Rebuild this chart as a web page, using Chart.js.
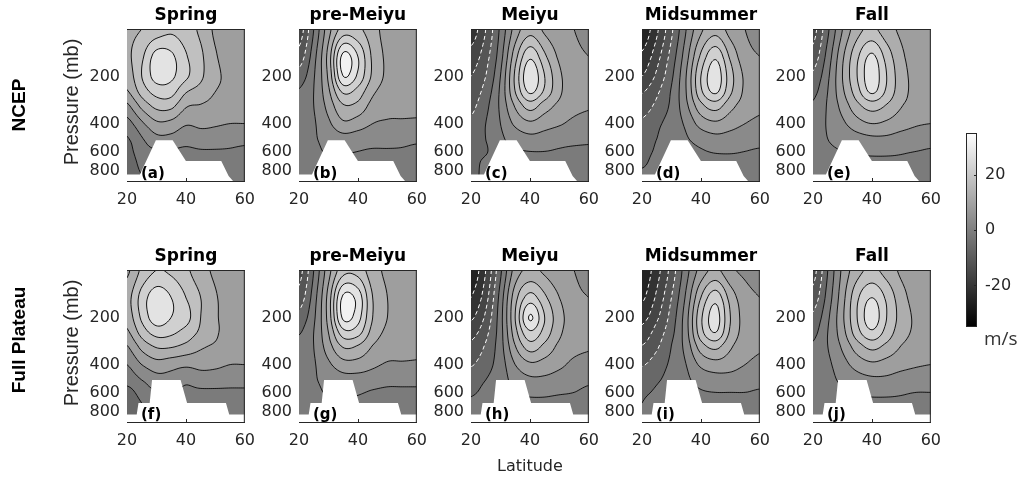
<!DOCTYPE html>
<html>
<head>
<meta charset="utf-8">
<script src="https://cdn.jsdelivr.net/npm/chart.js@4.4.1/dist/chart.umd.min.js"></script>
<style>
  html, body { margin: 0; padding: 0; background: #fff; }
  #fig { position: relative; width: 1021px; height: 477px; overflow: hidden; }
  #fig canvas { position: absolute; }
</style>
</head>
<body>
<div id="fig"></div>
<script>
// grid of the wind fields: columns are latitudes, rows are pressure levels (mb)
const lats = [20, 25, 30, 35, 40, 45, 50, 55, 60];
const pressureLevels = [100, 150, 200, 250, 300, 400, 500, 600, 700, 850, 925];
const latTicks = [20, 40, 60];
const pressureTicks = [200, 400, 600, 800];
const colorbarTicks = [-20, 0, 20];
const colorRange = [-35, 35];
const contourLevels = [-30, -25, -20, -15, -10, -5, 0, 5, 10, 15, 20, 25, 30, 35, 40];
const seasons = ['Spring', 'pre-Meiyu', 'Meiyu', 'Midsummer', 'Fall'];
const panelTags = [['(a)', '(b)', '(c)', '(d)', '(e)'], ['(f)', '(g)', '(h)', '(i)', '(j)']];
const rowNames = ['NCEP', 'Full Plateau'];

// surface (terrain) outline, masked below
const ncepSurfaceLat = [20, 24.4, 29.8, 35.5, 40, 52, 54.5, 56, 60];
const ncepSurfaceP = [840, 840, 510, 510, 690, 690, 860, 925, 925];
const plateauSurfaceLat = [20, 23.3, 23.9, 27.7, 28.5, 38.2, 40.4, 53.6, 54.7, 60];
const plateauSurfaceP = [828, 828, 700, 700, 500, 500, 700, 700, 828, 828];

// zonal wind, m/s
const ncepSpring = [
  [19, 20, 22, 24, 22, 19, 14, 12, 10],
  [19, 24, 32, 31, 25.5, 21, 15.5, 13, 11],
  [17, 25, 32, 31, 26, 21, 16, 14, 12],
  [14.5, 22, 27, 27, 20.5, 18, 15, 14, 13],
  [9.5, 17, 22, 22, 16, 15, 13.5, 12, 11],
  [3, 9, 14, 13.5, 10.5, 11, 10.5, 10, 10],
  [-0.5, 4.5, 8.5, 8.5, 7, 8, 8, 7, 6.5],
  [-2, 3, 4.5, 4.5, 4, 4.5, 4.5, 4.5, 4],
  [-3, 1.5, 3, 3, 3, 3, 3, 4, 3.5],
  [-3, 0, 1, 2, 2, 2, 2.5, 3.5, 3],
  [-3, -0.5, 1, 1, 1, 1, 2, 3.5, 3]
];
const ncepPreMeiyu = [
  [-13, 0, 13, 22, 21, 17, 13, 12, 11],
  [-8, 3, 17, 36.5, 30, 19, 14, 12.5, 11.5],
  [-3, 4.5, 16, 35, 29, 19, 14, 12.5, 11.5],
  [0.5, 5, 14, 26, 23, 16, 13, 12, 11],
  [2, 5, 12, 20, 19, 13.5, 11.5, 11, 10.5],
  [3, 4.5, 9, 14, 12.5, 10, 9.5, 9.5, 9.5],
  [3, 4.5, 6.5, 8, 7.5, 7, 7, 6.5, 6],
  [3, 4, 5.5, 5.5, 5, 4.5, 4.5, 4.5, 4],
  [2, 3.5, 4, 4, 4, 3.5, 3.5, 4, 4],
  [2, 3, 3, 3, 3, 3, 3, 4, 3.5],
  [2, 3, 3, 3, 3, 3, 3, 4, 3.5]
];
const ncepMeiyu = [
  [-18, -10, 1, 12, 18, 14, 11, 10, 9],
  [-13, -7, 3, 18, 29, 21, 14, 11, 10],
  [-10, -5, 5, 21, 34, 25, 16, 12, 10.5],
  [-8, -3, 6, 20, 31, 24, 16, 12, 11],
  [-6.5, -1.5, 6, 16, 23, 18, 14, 11.5, 10.5],
  [-4, 0, 5, 11, 14, 12, 10.5, 9, 8.5],
  [-2, 0, 4, 7, 8.5, 8, 7, 6.5, 6],
  [-2, -0.5, 3.5, 4.5, 5, 5, 4.5, 4, 4],
  [-1.5, 1, 3, 3.5, 3.5, 3.5, 3.5, 3.5, 3.5],
  [-1, 1, 2.5, 3, 3, 3, 3, 3, 3],
  [-1, 1, 2.5, 3, 3, 3, 3, 3, 3]
];
const ncepMidsummer = [
  [-24, -16, -6, 5, 14, 18, 13, 10, 8],
  [-19, -12, -3, 8, 21, 29, 19, 12, 10],
  [-15, -9, -1, 10, 25, 33, 22, 14, 11],
  [-10.5, -6, 0.5, 10, 24, 31, 21, 14, 11.5],
  [-8, -4, 1, 9, 19, 23, 17, 13, 11],
  [-4, -1, 2, 6, 12, 14, 12, 10, 9],
  [-2, 0, 2, 4.5, 7, 8.5, 8, 7, 6.5],
  [-1, 0.5, 2.5, 3.5, 4.5, 5.5, 5.5, 5, 4.5],
  [-0.5, 1, 2.5, 3, 3, 3, 3.5, 3.5, 3],
  [0.5, 1, 2, 2, 2, 2, 2.5, 3, 2.5],
  [0.5, 1, 2, 2, 2, 2, 2.5, 3, 2.5]
];
const ncepFall = [
  [-12, -1, 10, 18, 21, 17, 14, 12, 11],
  [-8, 2, 14, 24, 31, 23, 16, 13, 12],
  [-4, 4, 15, 25, 33, 25, 17, 13.5, 12],
  [-1.5, 5, 14, 23, 31, 24, 17, 13.5, 12],
  [0.5, 5.5, 12, 19, 23, 20, 15.5, 13, 11.5],
  [2, 5.5, 9, 13, 15, 14, 12, 10.5, 10],
  [2, 5, 6.5, 8, 9, 9, 8, 7.5, 7],
  [2, 4, 5, 5.5, 6, 6, 5.5, 5, 4.5],
  [2, 3, 3.5, 4, 4, 4, 4, 3.5, 3.5],
  [1.5, 2, 2.5, 3, 3, 3, 2.5, 3, 3],
  [1.5, 2, 2.5, 3, 3, 3, 2.5, 3, 3]
];
const plateauSpring = [
  [14, 21, 25, 24, 21, 17, 14, 12, 11],
  [18, 27, 33, 30, 25, 20, 15.5, 13, 12],
  [17, 26, 33, 30, 27, 20, 15.5, 14, 13],
  [14, 22, 27, 26, 23, 19, 15.5, 14, 13],
  [10, 17, 21, 21, 19, 16, 14.5, 13, 12],
  [5, 10, 13, 12, 11, 11.5, 11, 10, 10],
  [2, 5, 8, 8, 6, 7.5, 7.5, 7, 7],
  [-2, 2, 5, 5, 4, 4, 4, 4, 4],
  [-3, 0, 3, 3, 2, 2, 2, 2, 2],
  [-4, -1, 1, 1, 1, 1, 1, 1, 1],
  [-4, -1, 1, 1, 1, 1, 1, 1, 1]
];
const plateauPreMeiyu = [
  [-12, 0, 13, 23, 23, 17, 14, 12, 11],
  [-8, 2.5, 17, 36, 33, 20, 15, 13, 12],
  [-3.5, 4, 17, 36, 32, 20, 15, 13, 12],
  [-0.5, 5, 15, 28, 27, 18, 14, 13, 12],
  [1.5, 5, 13, 21, 20, 15, 12.5, 12, 11],
  [2.5, 4.5, 9, 13, 13, 11, 9.5, 9.5, 9.5],
  [3, 4.5, 6.5, 8, 8, 7.5, 6.5, 6.5, 6.5],
  [3, 4, 5.5, 6, 5.5, 4.5, 4, 4, 4],
  [2, 3.5, 4.5, 4.5, 4, 3.5, 3, 3, 3],
  [2, 3, 3, 3, 3, 3, 2.5, 2.5, 2.5],
  [2, 3, 3, 3, 3, 3, 2.5, 2.5, 2.5]
];
const plateauMeiyu = [
  [-24, -15, -1, 12, 16, 14, 11, 10, 9],
  [-20, -12, 2, 18, 27, 21, 15, 11, 10],
  [-16, -9, 3, 20, 35.5, 25, 17, 12, 10.5],
  [-12, -6.5, 3, 18, 29, 23, 16, 12, 11],
  [-9, -4.5, 3, 15, 23, 19, 14, 11.5, 10.5],
  [-5.5, -2, 2.5, 10, 14, 13, 11, 9, 8.5],
  [-2, 0, 2.5, 7, 9, 9, 8, 7, 6],
  [-0.5, 1, 3, 5, 6, 6, 5.5, 5, 4],
  [0.5, 1.5, 3, 4, 4, 4, 3.5, 3.5, 3.5],
  [0.5, 1.5, 2.5, 3, 3, 3, 2.5, 2.5, 2.5],
  [0.5, 1.5, 2.5, 3, 3, 3, 2.5, 2.5, 2.5]
];
const plateauMidsummer = [
  [-24, -17, -8, 3, 12, 16, 11, 9, 8],
  [-21, -14, -5, 6, 20, 28, 18, 12, 10],
  [-17, -11, -3, 8, 24, 32, 20, 13, 11],
  [-13, -8, -1.5, 8, 23, 30, 19, 13, 11],
  [-10, -6, 0, 7, 18, 22, 16, 12, 10.5],
  [-5.5, -2.5, 1, 5, 11, 13, 12, 10, 9],
  [-2, -0.5, 1.5, 4, 7, 8, 8, 7, 6.5],
  [-0.5, 0.5, 2, 3, 4.5, 5, 5, 5, 4.5],
  [0, 1, 2, 3, 3, 3, 3, 3, 3],
  [0, 1, 2, 2, 2, 2, 2, 2, 2],
  [0, 1, 2, 2, 2, 2, 2, 2, 2]
];
const plateauFall = [
  [-12, 0, 11, 18, 21, 18, 14, 12, 11],
  [-8, 2, 13, 24, 30, 24, 17, 13, 12],
  [-4, 4, 14, 25, 33, 25, 18, 14, 12],
  [-1.5, 5, 13, 23, 29, 23, 17, 14, 12],
  [0.5, 5, 11, 18, 22, 19, 15, 13, 11.5],
  [1.5, 4, 8, 12, 14, 13, 11.5, 10.5, 10],
  [2, 3.5, 6, 8, 9, 9, 8, 7.5, 7],
  [2, 3, 4.5, 5.5, 6, 6, 5.5, 5, 5],
  [2, 2.5, 3.5, 4, 4, 4, 4, 3.5, 3.5],
  [1.5, 2, 2.5, 3, 3, 3, 2.5, 2.5, 2.5],
  [1.5, 2, 2.5, 3, 3, 3, 2.5, 2.5, 2.5]
];

const fields = [
  [ncepSpring, ncepPreMeiyu, ncepMeiyu, ncepMidsummer, ncepFall],
  [plateauSpring, plateauPreMeiyu, plateauMeiyu, plateauMidsummer, plateauFall]
];

// layout
const FIG_H = 477;
const PLOT_W = 121, PLOT_H = 152;
const COL_LEFT = [127, 299, 471, 642, 813];
const ROW_TOP = [29, 270];
const TITLE_SPACE = 30;
const AXIS = '#262626';
const GRID = 'rgba(38,38,38,0.15)';
const TICK_FONT = { family: '"DejaVu Sans"', size: 16 };
const FILL_SHADE = 0.95;

const fig = document.getElementById('fig');
const lnLevels = pressureLevels.map(Math.log);

function catmullRom(p0, p1, p2, p3, t) {
  return 0.5 * (2 * p1 + (p2 - p0) * t + (2 * p0 - 5 * p1 + 4 * p2 - p3) * t * t + (3 * p1 - p0 - 3 * p2 + p3) * t * t * t);
}

// smooth interpolation of the field at (lat, p); latitude index and ln(p) index space
function sampleField(field, lat, p) {
  const nx = lats.length, ny = pressureLevels.length;
  let fx = (lat - lats[0]) / (lats[1] - lats[0]);
  fx = Math.max(0, Math.min(nx - 1.000001, fx));
  const i = Math.floor(fx), tx = fx - i;
  const lp = Math.log(p);
  let k = 0;
  while (k < ny - 2 && lp > lnLevels[k + 1]) k++;
  let ty = (lp - lnLevels[k]) / (lnLevels[k + 1] - lnLevels[k]);
  ty = Math.max(0, Math.min(1, ty));
  const cx = n => Math.max(0, Math.min(nx - 1, n));
  const cy = n => Math.max(0, Math.min(ny - 1, n));
  const rowVal = r => {
    const row = field[cy(r)];
    return catmullRom(row[cx(i - 1)], row[cx(i)], row[cx(i + 1)], row[cx(i + 2)], tx);
  };
  return catmullRom(rowVal(k - 1), rowVal(k), rowVal(k + 1), rowVal(k + 2), ty);
}

// gray(64) colour of the band whose lower contour level is below v
function grayFor(v) {
  let L = contourLevels[0];
  for (const lv of contourLevels) if (v >= lv) L = lv;
  const t = (L - colorRange[0]) / (colorRange[1] - colorRange[0]);
  const idx = Math.max(0, Math.min(63, Math.floor(t * 64)));
  return Math.round(idx / 63 * 255 * FILL_SHADE);
}

// marching squares, segments chained into polylines (node index coords)
function traceContours(vals, nx, ny, level) {
  const pts = new Map();
  const segs = [];
  function edge(t, i, j) {
    const k = t + i + '_' + j;
    if (!pts.has(k)) {
      let a, b;
      if (t === 'h') { a = vals[j * nx + i]; b = vals[j * nx + i + 1]; pts.set(k, [i + (level - a) / (b - a), j]); }
      else { a = vals[j * nx + i]; b = vals[(j + 1) * nx + i]; pts.set(k, [i, j + (level - a) / (b - a)]); }
    }
    return k;
  }
  for (let j = 0; j < ny - 1; j++) {
    for (let i = 0; i < nx - 1; i++) {
      const v0 = vals[j * nx + i], v1 = vals[j * nx + i + 1];
      const v2 = vals[(j + 1) * nx + i + 1], v3 = vals[(j + 1) * nx + i];
      const c = (v0 >= level ? 1 : 0) | (v1 >= level ? 2 : 0) | (v2 >= level ? 4 : 0) | (v3 >= level ? 8 : 0);
      if (c === 0 || c === 15) continue;
      const T = () => edge('h', i, j), B = () => edge('h', i, j + 1);
      const L = () => edge('v', i, j), R = () => edge('v', i + 1, j);
      switch (c) {
        case 1: case 14: segs.push([L(), T()]); break;
        case 2: case 13: segs.push([T(), R()]); break;
        case 3: case 12: segs.push([L(), R()]); break;
        case 4: case 11: segs.push([R(), B()]); break;
        case 6: case 9: segs.push([T(), B()]); break;
        case 7: case 8: segs.push([L(), B()]); break;
        default: {
          const centre = (v0 + v1 + v2 + v3) / 4;
          if ((c === 5) === (centre >= level)) { segs.push([L(), B()]); segs.push([T(), R()]); }
          else { segs.push([L(), T()]); segs.push([R(), B()]); }
        }
      }
    }
  }
  const adj = new Map();
  segs.forEach((s, n) => s.forEach(k => { if (!adj.has(k)) adj.set(k, []); adj.get(k).push(n); }));
  const used = new Uint8Array(segs.length);
  const lines = [];
  for (let s = 0; s < segs.length; s++) {
    if (used[s]) continue;
    used[s] = 1;
    const line = [segs[s][0], segs[s][1]];
    for (let dir = 0; dir < 2; dir++) {
      let cur = dir === 0 ? segs[s][1] : segs[s][0];
      for (;;) {
        const next = adj.get(cur).find(n => !used[n]);
        if (next === undefined) break;
        used[next] = 1;
        cur = segs[next][0] === cur ? segs[next][1] : segs[next][0];
        if (dir === 0) line.push(cur); else line.unshift(cur);
      }
    }
    lines.push(line.map(k => pts.get(k)));
  }
  return lines;
}

function drawText(ctx, t) {
  ctx.save();
  ctx.font = t.font;
  ctx.fillStyle = t.color || '#000';
  ctx.textAlign = t.align || 'center';
  ctx.textBaseline = t.baseline || 'alphabetic';
  ctx.translate(t.x, t.y);
  if (t.rotate) ctx.rotate(t.rotate);
  ctx.fillText(t.text, 0, 0);
  ctx.restore();
}

function contourPlugin(field, texts) {
  return {
    id: 'contourPanel',
    beforeDatasetsDraw(chart) {
      const { ctx, chartArea: a, scales } = chart;
      const xs = scales.x, ys = scales.y;
      const W = Math.round(a.right - a.left), H = Math.round(a.bottom - a.top);
      const img = ctx.createImageData(W, H);
      const colLat = [];
      for (let x = 0; x < W; x++) colLat.push(xs.getValueForPixel(a.left + x + 0.5));
      for (let y = 0; y < H; y++) {
        const p = ys.getValueForPixel(a.top + y + 0.5);
        for (let x = 0; x < W; x++) {
          const g = grayFor(sampleField(field, colLat[x], p));
          const o = (y * W + x) * 4;
          img.data[o] = g; img.data[o + 1] = g; img.data[o + 2] = g; img.data[o + 3] = 255;
        }
      }
      ctx.putImageData(img, Math.round(a.left), Math.round(a.top));

      // contour lines on a 2 px node grid
      const ncx = Math.round(W / 2), ncy = Math.round(H / 2);
      const nx = ncx + 1, ny = ncy + 1;
      const dx = (a.right - a.left) / ncx, dy = (a.bottom - a.top) / ncy;
      const vals = new Float64Array(nx * ny);
      for (let j = 0; j < ny; j++) {
        const p = ys.getValueForPixel(a.top + j * dy);
        for (let i = 0; i < nx; i++) vals[j * nx + i] = sampleField(field, xs.getValueForPixel(a.left + i * dx), p);
      }
      ctx.save();
      ctx.beginPath();
      ctx.rect(a.left, a.top, a.right - a.left, a.bottom - a.top);
      ctx.clip();
      ctx.lineJoin = 'round';
      ctx.lineWidth = 1;
      for (const level of contourLevels) {
        const lines = traceContours(vals, nx, ny, level);
        if (level < 0) { ctx.strokeStyle = '#ffffff'; ctx.setLineDash([4, 3]); }
        else { ctx.strokeStyle = '#141414'; ctx.setLineDash([]); }
        for (const line of lines) {
          ctx.beginPath();
          line.forEach(([i, j], n) => {
            const px = a.left + i * dx, py = a.top + j * dy;
            if (n === 0) ctx.moveTo(px, py); else ctx.lineTo(px, py);
          });
          ctx.stroke();
        }
      }
      ctx.restore();
    },
    afterDraw(chart) {
      const { ctx, chartArea: a } = chart;
      ctx.save();
      ctx.strokeStyle = AXIS;
      ctx.lineWidth = 1;
      ctx.beginPath();
      ctx.moveTo(a.left, a.top + 0.5); ctx.lineTo(a.right, a.top + 0.5);
      ctx.moveTo(a.right - 0.5, a.top); ctx.lineTo(a.right - 0.5, a.bottom);
      // short inward tick at the middle latitude
      const x40 = Math.round(chart.scales.x.getPixelForValue(latTicks[1])) + 0.5;
      ctx.moveTo(x40, a.bottom); ctx.lineTo(x40, a.bottom - 3);
      ctx.stroke();
      ctx.restore();
      texts.forEach(t => drawText(ctx, t(a)));
    }
  };
}

function panelChart(row, col) {
  const field = fields[row][col];
  const surfLat = row === 0 ? ncepSurfaceLat : plateauSurfaceLat;
  const surfP = row === 0 ? ncepSurfaceP : plateauSurfaceP;
  const yw = col === 0 ? COL_LEFT[0] : 48;
  const bottomSpace = row === 0 ? 34 : FIG_H - (ROW_TOP[1] + PLOT_H);
  const w = yw + PLOT_W + 16, h = TITLE_SPACE + PLOT_H + bottomSpace;
  const canvas = document.createElement('canvas');
  canvas.width = w; canvas.height = h;
  canvas.style.left = (COL_LEFT[col] - yw) + 'px';
  canvas.style.top = (ROW_TOP[row] - TITLE_SPACE) + 'px';
  canvas.style.width = w + 'px'; canvas.style.height = h + 'px';
  fig.appendChild(canvas);

  const texts = [
    a => ({ text: seasons[col], x: (a.left + a.right) / 2, y: a.top - 9.5, font: 'bold 17px "DejaVu Sans"' }),
    a => ({ text: panelTags[row][col], x: a.left + 14, y: a.bottom - 3, align: 'left', font: 'bold 15px "DejaVu Sans"' })
  ];
  if (col === 0) {
    texts.push(a => ({ text: 'Pressure (mb)', x: 72, y: (a.top + a.bottom) / 2 - 3, rotate: -Math.PI / 2,
      baseline: 'middle', color: AXIS, font: '20px "Liberation Sans"' }));
    texts.push(a => ({ text: rowNames[row], x: 20, y: (a.top + a.bottom) / 2 - (row === 0 ? 0 : 6), rotate: -Math.PI / 2,
      baseline: 'middle', font: 'bold 19px "Liberation Sans"' }));
  }
  if (row === 1 && col === 2) {
    texts.push(a => ({ text: 'Latitude', x: (a.left + a.right) / 2, y: a.bottom + 45, baseline: 'middle',
      color: AXIS, font: '16px "DejaVu Sans"' }));
  }

  new Chart(canvas, {
    type: 'line',
    data: {
      datasets: [{
        data: surfLat.map((lat, i) => ({ x: lat, y: surfP[i] })),
        fill: { value: pressureLevels[pressureLevels.length - 1] },
        backgroundColor: '#ffffff',
        borderColor: '#ffffff',
        borderWidth: 0,
        pointRadius: 0,
        tension: 0
      }]
    },
    options: {
      responsive: false,
      animation: false,
      devicePixelRatio: 1,
      events: [],
      layout: { autoPadding: false, padding: { top: TITLE_SPACE, right: 16, left: 0, bottom: 0 } },
      plugins: { legend: { display: false }, tooltip: { enabled: false } },
      scales: {
        x: {
          type: 'linear', min: latTicks[0], max: latTicks[latTicks.length - 1], z: 1,
          afterFit: s => { s.height = bottomSpace; },
          afterBuildTicks: s => { s.ticks = latTicks.map(v => ({ value: v })); },
          grid: { color: GRID, drawTicks: false },
          border: { color: AXIS, width: 1 },
          ticks: { font: TICK_FONT, color: AXIS, padding: 9, maxRotation: 0, autoSkip: false }
        },
        y: {
          type: 'logarithmic', min: pressureLevels[0], max: pressureLevels[pressureLevels.length - 1],
          reverse: true, z: 1,
          afterFit: s => { s.width = yw; },
          afterBuildTicks: s => { s.ticks = pressureTicks.map(v => ({ value: v })); },
          grid: { color: GRID, drawTicks: false },
          border: { color: AXIS, width: 1 },
          ticks: { font: TICK_FONT, color: AXIS, padding: 7, autoSkip: false, callback: v => String(v) }
        }
      }
    },
    plugins: [contourPlugin(field, texts)]
  });
}

for (let r = 0; r < 2; r++) for (let c = 0; c < 5; c++) panelChart(r, c);

// colour bar
(function () {
  const left = 930, top = 100, w = 91, h = 260;
  const canvas = document.createElement('canvas');
  canvas.width = w; canvas.height = h;
  canvas.style.left = left + 'px'; canvas.style.top = top + 'px';
  canvas.style.width = w + 'px'; canvas.style.height = h + 'px';
  fig.appendChild(canvas);
  new Chart(canvas, {
    type: 'scatter',
    data: { datasets: [] },
    options: {
      responsive: false, animation: false, devicePixelRatio: 1, events: [],
      layout: { autoPadding: false, padding: { left: 36, top: 33, bottom: 33, right: 0 } },
      plugins: { legend: { display: false }, tooltip: { enabled: false } },
      scales: {
        x: { type: 'linear', display: false },
        y: {
          type: 'linear', position: 'right', min: colorRange[0], max: colorRange[1],
          afterFit: s => { s.width = 44; },
          afterBuildTicks: s => { s.ticks = colorbarTicks.map(v => ({ value: v })); },
          grid: { display: false, drawTicks: false },
          border: { display: false },
          ticks: { font: TICK_FONT, color: AXIS, padding: 8 }
        }
      }
    },
    plugins: [{
      id: 'colorbar',
      beforeDatasetsDraw(chart) {
        const { ctx, chartArea: a } = chart;
        const grad = ctx.createLinearGradient(0, a.bottom, 0, a.top);
        grad.addColorStop(0, '#000000');
        grad.addColorStop(1, '#ffffff');
        ctx.fillStyle = grad;
        ctx.fillRect(a.left, a.top, a.right - a.left, a.bottom - a.top);
      },
      afterDraw(chart) {
        const { ctx, chartArea: a, scales } = chart;
        ctx.save();
        ctx.strokeStyle = AXIS;
        ctx.lineWidth = 1;
        ctx.strokeRect(a.left + 0.5, a.top + 0.5, a.right - a.left - 1, a.bottom - a.top - 1);
        ctx.beginPath();
        colorbarTicks.forEach(v => {
          const y = Math.round(scales.y.getPixelForValue(v)) + 0.5;
          ctx.moveTo(a.right, y); ctx.lineTo(a.right - 3, y);
        });
        ctx.stroke();
        ctx.restore();
        drawText(ctx, { text: 'm/s', x: a.left + 18, y: a.bottom + 18, align: 'left', color: '#333',
          font: '19px "Open Sans"' });
      }
    }]
  });
})();
</script>
</body>
</html>
